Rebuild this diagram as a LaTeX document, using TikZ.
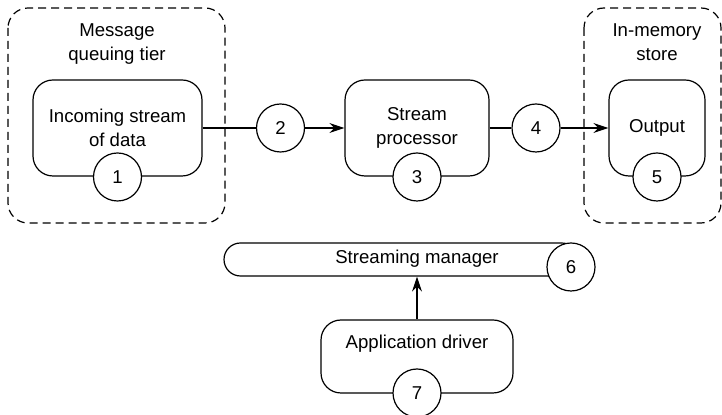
\documentclass[tikz,border=0pt]{standalone}
\usepackage{fontspec}
\setmainfont{Liberation Sans}
\usetikzlibrary{arrows.meta, positioning}

\begin{document}
\begin{tikzpicture}[x=0.5pt, y=-0.5pt, >={Stealth[length=7.5pt, width=5pt]},
    line width=0.6pt,
    font=\fontsize{9.3}{12}\selectfont,
    tier/.style={draw, dashed, dash pattern=on 4pt off 2.5pt, rounded corners=10pt},
    stage/.style={draw, rounded corners=10pt, align=center, inner sep=0pt},
    num/.style={draw, circle, fill=white, minimum size=24pt, inner sep=0pt},
    txt/.style={align=center, inner sep=0pt}]
  \useasboundingbox (0,0) rectangle (722,415);
  % tiers
  \draw[tier] (8,8) rectangle (225,223);
  \draw[tier] (584,8) rectangle (721,223);
  \node[txt] (mqtxt) at (117,44) {Message\\queuing tier};
  \node[txt] (memtxt) at (657,42) {In-memory\\store};
  % stages
  \node[stage, minimum width=84.5pt, minimum height=48pt] (inc) at (117.5,128) {Incoming stream\\of data};
  \node[stage, minimum width=72pt, minimum height=48pt] (proc) at (417,128) {Stream\\processor};
  \node[stage, minimum width=48pt, minimum height=48pt] (out) at (657,128) {Output};
  \node[stage, minimum width=177pt, minimum height=16.5pt, rounded corners=8.25pt] (mgr) at (401,259.5) {};
  \node[txt] (mgrtxt) at (417,259) {Streaming manager};
  \node[stage, minimum width=96pt, minimum height=36.5pt] (drv) at (417,356.5) {};
  \node[txt] (drvtxt) at (417,344) {Application driver};
  % numbers
  \node[num] (c1) at (117.5,177) {1};
  \node[num] (c2) at (280.5,128) {2};
  \node[num] (c3) at (417,177) {3};
  \node[num] (c4) at (536,128) {4};
  \node[num] (c5) at (657,177) {5};
  \node[num] (c6) at (571,267) {6};
  \node[num] (c7) at (417,393) {7};
  % flow
  \draw (inc.east) -- (c2.west);
  \draw[->] (c2.east) -- (proc.west);
  \draw (proc.east) -- (c4.west);
  \draw[->] (c4.east) -- (out.west);
  \draw[->] (drv.north) -- (drv.north |- mgr.south);
\end{tikzpicture}
\end{document}
